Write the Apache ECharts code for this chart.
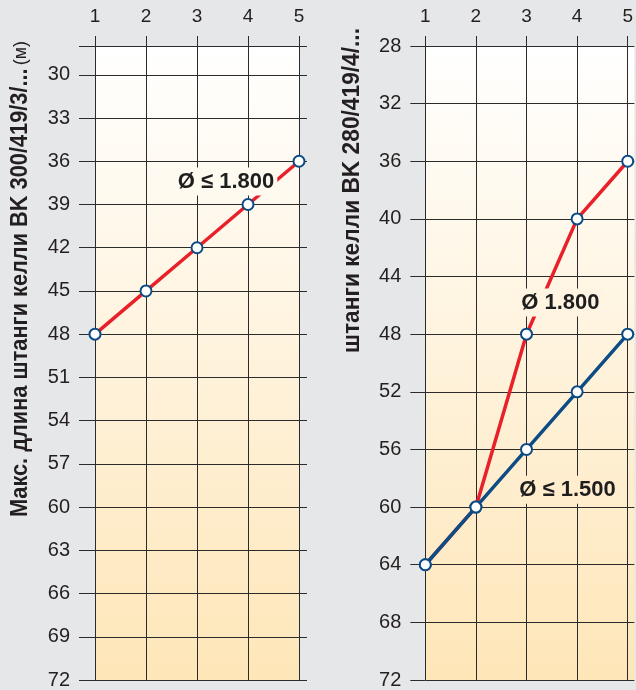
<!DOCTYPE html>
<html>
<head>
<meta charset="utf-8">
<script src="https://cdn.jsdelivr.net/npm/echarts@6/dist/echarts.min.js"></script>
<style>
  html, body { margin: 0; padding: 0; background: #e6e7e8; }
  #chart { width: 636px; height: 690px; }
</style>
</head>
<body>
<div id="chart"></div>
<script>
// Номер ступени (ось X сверху)
const steps = [1, 2, 3, 4, 5];

// BK 300/419/3/... , Ø ≤ 1.800
const leftDepth = [48, 45, 42, 39, 36];
// BK 280/419/4/...
const rightDepth1800 = [64, 60, 48, 40, 36];
const rightDepth1500 = [64, 60, 56, 52, 48];

// подписи осей
const leftTickLabels = [30, 33, 36, 39, 42, 45, 48, 51, 54, 57, 60, 63, 66, 69, 72];
const leftTickLines = [28].concat(leftTickLabels);
const rightTickLabels = [28, 32, 36, 40, 44, 48, 52, 56, 60, 64, 68, 72];

const leftTitle = 'Макс. длина штанги келли BK 300/419/3/...';
const leftUnit = '(м)';
const rightTitle = 'штанги келли BK 280/419/4/...';

const chartDom = document.getElementById('chart');
const myChart = echarts.init(chartDom);

const pairs = (ys) => steps.map((x, i) => [x, ys[i]]);

// сжимаем заголовок по длине (в оригинале узкий шрифт)
const ctx = document.createElement('canvas').getContext('2d');
function textWidth(str, font) {
    ctx.font = font;
    return ctx.measureText(str).width;
}
const titleFontB = 'bold 23px "Liberation Sans"';
const titleFontN = '19px "Liberation Sans"';
const leftLen = textWidth(leftTitle, titleFontB) + textWidth(' ' + leftUnit, titleFontN);
const rightLen = textWidth(rightTitle, titleFontB);
const leftScale = 478 / leftLen;
const rightScale = 325 / rightLen;

const plotFill = new echarts.graphic.LinearGradient(0, 0, 0, 1, [
    { offset: 0, color: '#ffffff' },
    { offset: 1, color: '#fee6b8' }
]);

const lineColor = '#2b2b2b';
const labelFont = { fontFamily: 'Liberation Sans', fontSize: 20, color: '#231f20' };

function xAxisOf(gridIndex, max) {
    return {
        type: 'value', gridIndex: gridIndex, position: 'top',
        min: 1, max: max,
        axisLine: { show: false },
        axisTick: { show: true, length: 10, lineStyle: { color: lineColor }, customValues: steps },
        axisLabel: Object.assign({ margin: 20, customValues: steps }, labelFont, { fontSize: 19 }),
        splitLine: { show: true, lineStyle: { color: lineColor, width: 1 } }
    };
}

function markerStyle(color) {
    return {
        type: 'line',
        symbol: 'circle',
        symbolSize: 11,
        lineStyle: { color: color, width: 3.5 },
        itemStyle: { color: '#ffffff', borderColor: '#0c4a84', borderWidth: 2 },
        z: 3
    };
}

function note(xAxisIndex, yAxisIndex, coord, text, bg) {
    return {
        type: 'scatter', xAxisIndex: xAxisIndex, yAxisIndex: yAxisIndex,
        symbolSize: 0, silent: true, z: 5,
        itemStyle: { opacity: 1 },
        data: [coord],
        label: {
            show: true, position: 'inside', formatter: text,
            fontFamily: 'Liberation Sans', fontWeight: 'bold',
            fontSize: 22, color: '#1e1e1e', textBorderWidth: 0,
            backgroundColor: bg, padding: [3, 3]
        }
    };
}

const option = {
    backgroundColor: '#e6e7e8',
    animation: false,
    grid: [
        { left: 95, width: 204, top: 46, bottom: 7.3, show: true, borderWidth: 0, backgroundColor: plotFill },
        { left: 425.3, right: 0, top: 46, bottom: 7.3, show: true, borderWidth: 0, backgroundColor: plotFill }
    ],
    xAxis: [
        xAxisOf(0, 5),
        xAxisOf(1, 5.131)
    ],
    yAxis: [
        {
            type: 'value', gridIndex: 0, inverse: true, min: 28, max: 72, position: 'left',
            axisLine: { show: false },
            axisTick: { show: true, length: 16, lineStyle: { color: lineColor }, customValues: leftTickLines },
            axisLabel: Object.assign({ margin: 25, customValues: leftTickLabels }, labelFont),
            splitLine: { show: true, lineStyle: { color: lineColor, width: 1 } }
        },
        {
            type: 'value', gridIndex: 0, inverse: true, min: 28, max: 72, position: 'right',
            axisLine: { show: false },
            axisTick: { show: true, length: 8, lineStyle: { color: lineColor }, customValues: leftTickLines },
            axisLabel: { show: false },
            splitLine: { show: false }
        },
        {
            type: 'value', gridIndex: 1, inverse: true, min: 28, max: 72, interval: 4, position: 'left',
            axisLine: { show: false },
            axisTick: { show: true, length: 15, lineStyle: { color: lineColor }, customValues: rightTickLabels },
            axisLabel: Object.assign({ margin: 24, customValues: rightTickLabels }, labelFont),
            splitLine: { show: true, lineStyle: { color: lineColor, width: 1 } }
        }
    ],
    series: [
        Object.assign(markerStyle('#e8202a'), { name: 'Ø ≤ 1.800', xAxisIndex: 0, yAxisIndex: 0, data: pairs(leftDepth) }),
        Object.assign(markerStyle('#e8202a'), { name: 'Ø 1.800', xAxisIndex: 1, yAxisIndex: 2, data: pairs(rightDepth1800) }),
        Object.assign(markerStyle('#0d4c84'), { name: 'Ø ≤ 1.500', xAxisIndex: 1, yAxisIndex: 2, data: pairs(rightDepth1500), z: 4 }),
        note(0, 0, [3.57, 37.4], 'Ø ≤ 1.800', '#fffaf0'),
        note(1, 2, [3.67, 45.8], 'Ø 1.800', '#fff4e2'),
        note(1, 2, [3.81, 58.8], 'Ø ≤ 1.500', '#ffedcd')
    ],
    graphic: [
        {
            type: 'text', x: 21, y: 279, rotation: Math.PI / 2, scaleX: leftScale,
            style: {
                text: '{b|' + leftTitle + '} {n|' + leftUnit + '}',
                align: 'center', verticalAlign: 'middle',
                rich: {
                    b: { font: titleFontB, fill: '#231f20' },
                    n: { font: titleFontN, fill: '#231f20' }
                }
            }
        },
        {
            type: 'text', x: 353, y: 190.5, rotation: Math.PI / 2, scaleX: rightScale,
            style: {
                text: rightTitle,
                align: 'center', verticalAlign: 'middle',
                font: titleFontB, fill: '#231f20'
            }
        }
    ]
};
myChart.setOption(option);
</script>
</body>
</html>
